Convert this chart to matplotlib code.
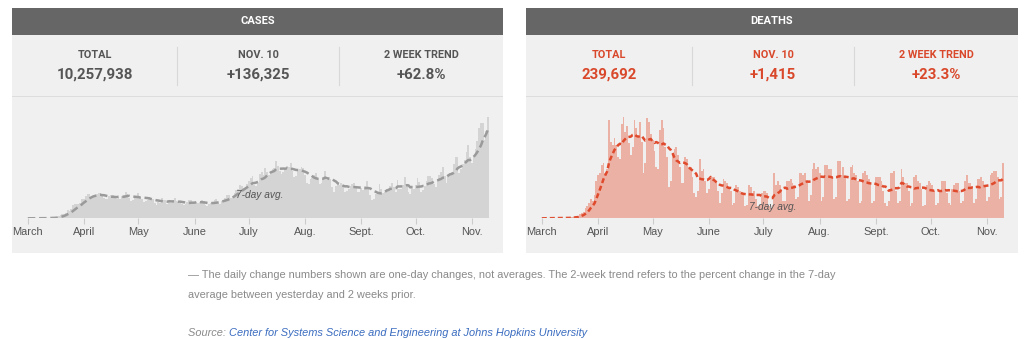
import numpy as np
import pandas as pd
import matplotlib
matplotlib.use('Agg')
import matplotlib.pyplot as plt
from matplotlib.patches import Rectangle

# daily new cases (thousands), Mar 1 - Nov 10
cases_mar = [0.01, 0.02, 0.03, 0.03, 0.07, 0.1, 0.1, 0.12, 0.2, 0.3, 0.4, 0.5, 0.6, 0.7, 0.8,
             1.0, 1.5, 2.5, 4.5, 5.6, 6.4, 7.8, 10.6, 10.0, 12.0, 17.8, 18.7, 19.6, 19.0, 21.0, 26.0]
cases_apr = [26.5, 29.9, 32.1, 33.3, 28.2, 29.6, 30.9, 32.4, 34.0, 33.6, 29.9, 27.5, 25.4, 26.6, 29.6,
             31.4, 31.9, 28.8, 26.3, 28.1, 26.6, 29.5, 31.6, 35.6, 33.2, 27.0, 23.0, 25.0, 27.5, 30.4]
cases_may = [34.0, 29.3, 25.5, 22.3, 23.8, 25.0, 28.9, 27.6, 25.6, 20.3, 18.4, 22.0, 21.0, 27.4, 25.1,
             24.2, 19.0, 22.3, 20.4, 21.7, 27.4, 23.5, 22.0, 20.0, 19.0, 18.0, 19.7, 21.8, 24.0, 24.3, 20.0]
cases_jun = [20.0, 21.5, 20.0, 21.5, 24.5, 22.8, 18.0, 17.0, 18.6, 21.0, 22.5, 25.0, 25.5, 20.0, 19.5,
             23.5, 25.0, 27.5, 31.5, 32.0, 27.0, 30.0, 34.5, 37.5, 39.5, 45.0, 43.0, 40.0, 41.0, 46.0]
cases_jul = [50.0, 54.0, 57.0, 45.0, 44.0, 48.0, 60.0, 62.0, 59.0, 68.0, 63.0, 59.0, 62.0, 67.0, 68.0,
             77.0, 71.0, 64.0, 60.0, 62.0, 66.0, 71.0, 69.0, 74.0, 64.0, 55.0, 57.0, 65.0, 67.0, 69.0, 68.0]
cases_aug = [58.0, 47.0, 46.0, 53.0, 54.0, 58.0, 61.0, 54.0, 46.0, 48.0, 53.0, 64.0, 52.0, 56.0, 53.0,
             42.0, 36.0, 44.0, 47.0, 45.0, 48.0, 45.0, 36.0, 37.0, 39.0, 44.0, 46.0, 48.0, 43.0, 35.0, 35.0]
cases_sep = [41.0, 38.0, 44.0, 50.0, 42.0, 31.0, 24.0, 26.0, 33.0, 35.0, 46.0, 40.0, 34.0, 35.0, 39.0,
             39.0, 44.0, 48.0, 42.0, 36.0, 52.0, 39.0, 39.0, 45.0, 55.0, 46.0, 35.0, 33.0, 43.0, 40.0]
cases_oct = [45.0, 54.0, 49.0, 36.0, 38.0, 43.0, 50.0, 57.0, 57.0, 54.0, 46.0, 42.0, 51.0, 58.0, 63.0,
             69.0, 57.0, 48.0, 59.0, 61.0, 62.0, 73.0, 83.0, 83.0, 61.0, 66.0, 73.0, 79.0, 89.0, 99.0, 82.0]
cases_nov = [74.0, 84.0, 93.0, 104.0, 121.0, 129.0, 128.0, 106.0, 118.0, 136.3]

# daily new deaths, Mar 1 - Nov 10
deaths_mar = [0, 1, 1, 3, 2, 3, 3, 4, 4, 6, 8, 7, 10, 10, 10, 18, 23, 30, 40, 50, 52, 100, 140,
              165, 250, 300, 400, 500, 450, 600, 950]
deaths_apr = [1100, 1150, 1350, 1400, 1150, 1250, 2500, 1950, 1850, 2050, 1850, 1550, 1500, 2400, 2570,
              2200, 2350, 1900, 1600, 1800, 2500, 2300, 2050, 2450, 1950, 1150, 1400, 2550, 2450, 2150]
deaths_may = [2000, 1700, 1300, 1250, 2250, 2500, 2300, 1800, 1550, 800, 950, 1650, 1750, 1800, 1600,
              1300, 900, 900, 1550, 1500, 1300, 1300, 1050, 650, 550, 700, 1500, 1200, 1250, 950, 650]
deaths_jun = [750, 1050, 1050, 1050, 950, 700, 400, 650, 1000, 950, 900, 800, 700, 350, 400,
              850, 800, 700, 650, 600, 300, 350, 850, 800, 650, 700, 500, 300, 350, 650]
deaths_jul = [700, 700, 650, 300, 250, 350, 1150, 850, 950, 850, 750, 450, 450, 950, 950,
              1000, 900, 850, 500, 550, 1150, 1150, 1100, 1150, 950, 450, 600, 1250, 1400, 1250, 1300]
deaths_aug = [1150, 450, 550, 1350, 1350, 1250, 1250, 1050, 500, 550, 1450, 1450, 1100, 1300, 1050,
              450, 500, 1300, 1350, 1150, 1100, 950, 400, 450, 1150, 1200, 1100, 1000, 900, 400, 450]
deaths_sep = [1050, 1050, 1050, 950, 700, 400, 300, 450, 1150, 1150, 1200, 700, 400, 450, 1250,
              1050, 900, 900, 700, 300, 400, 1050, 1100, 950, 900, 750, 300, 350, 850, 950]
deaths_oct = [900, 850, 700, 350, 400, 700, 950, 950, 950, 650, 400, 350, 750, 850, 900,
              900, 700, 400, 450, 950, 1100, 900, 900, 800, 400, 500, 1000, 1000, 1050, 950, 850]
deaths_nov = [450, 550, 1100, 1150, 1200, 1200, 1050, 500, 550, 1415]

month_labels = ['March', 'April', 'May', 'June', 'July', 'Aug.', 'Sept.', 'Oct.', 'Nov.']
stat_labels = ['TOTAL', 'NOV. 10', '2 WEEK TREND']
cases_stats = ['10,257,938', '+136,325', '+62.8%']
deaths_stats = ['239,692', '+1,415', '+23.3%']

cases = np.array(cases_mar + cases_apr + cases_may + cases_jun + cases_jul
                 + cases_aug + cases_sep + cases_oct + cases_nov) * 1000
deaths = np.array(deaths_mar + deaths_apr + deaths_may + deaths_jun + deaths_jul
                  + deaths_aug + deaths_sep + deaths_oct + deaths_nov, dtype=float)
month_lens = [len(m) for m in (cases_mar, cases_apr, cases_may, cases_jun, cases_jul,
                               cases_aug, cases_sep, cases_oct)]
month_starts = np.concatenate([[0], np.cumsum(month_lens)])

W, H = 1024, 339
fig = plt.figure(figsize=(W / 100, H / 100), dpi=100)
fig.patch.set_facecolor('white')

bg = fig.add_axes([0, 0, 1, 1])
bg.set_xlim(0, W)
bg.set_ylim(H, 0)
bg.axis('off')

GRAY_TXT = '#555555'
RED_TXT = '#d9482b'
PANEL_BG = '#f0f0f0'


def px_axes(x0, y0, x1, y1):
    """axes rect from pixel box (top-left origin)"""
    return fig.add_axes([x0 / W, 1 - y1 / H, (x1 - x0) / W, (y1 - y0) / H])


def draw_panel(x0, x1, title, stats, txt_color, seps):
    bg.add_patch(Rectangle((x0, 8), x1 - x0, 27, color='#666666', lw=0))
    bg.add_patch(Rectangle((x0, 35), x1 - x0, 61, color=PANEL_BG, lw=0))
    bg.add_patch(Rectangle((x0, 96), x1 - x0, 1.2, color='#dddddd', lw=0))
    bg.add_patch(Rectangle((x0, 97.2), x1 - x0, 156, color=PANEL_BG, lw=0))
    bg.text((x0 + x1) / 2, 21.5, title, color='white', fontsize=8, fontweight='bold',
            family='Roboto', ha='center', va='center')
    edges = [x0] + seps + [x1]
    for i, (lab, val) in enumerate(zip(stat_labels, stats)):
        cx = (edges[i] + edges[i + 1]) / 2
        bg.text(cx, 55, lab, color=txt_color, fontsize=7.8, fontweight='semibold',
                family='Roboto', ha='center', va='center')
        bg.text(cx, 75, val, color=txt_color, fontsize=10.8, fontweight='bold',
                family='Roboto', ha='center', va='center')
    for s in seps:
        bg.plot([s, s], [47, 85], color='#d8d8d8', lw=0.8)


def draw_chart(ax, values, bar_color, line_color, dashes, ytop, label_xy):
    days = np.arange(len(values))
    avg = pd.Series(values).rolling(7, min_periods=1).mean()
    ax.bar(days, values, width=1.0, color=bar_color, lw=0)
    ax.plot(days, avg, color=line_color, lw=1.8, dashes=dashes)
    ax.set_xlim(-1, len(values))
    ax.set_ylim(0, ytop)
    ax.set_facecolor('none')
    for sp in ax.spines.values():
        sp.set_visible(False)
    ax.set_yticks([])
    ax.set_xticks(month_starts)
    ax.set_xticklabels(month_labels, fontsize=7.9, color=GRAY_TXT, family='Liberation Sans')
    ax.tick_params(axis='x', length=4, width=0.8, color='#cccccc', pad=2)
    ax.axhline(0, color='#dddddd', lw=0.8)
    ax.text(label_xy[0], label_xy[1], '7-day avg.', fontsize=7.3, style='italic',
            color=GRAY_TXT, family='Liberation Sans', ha='center', va='center')


draw_panel(12, 503, 'CASES', cases_stats, GRAY_TXT, [177, 339])
draw_panel(526, 1018, 'DEATHS', deaths_stats, RED_TXT, [692, 854])

ax1 = px_axes(26, 110, 490, 218.3)
draw_chart(ax1, cases, '#d4d4d4', '#9a9a9a', (3, 1.5), 145900, (128, 31000))
ax2 = px_axes(540, 110, 1005, 218.3)
draw_chart(ax2, deaths, '#ecb1a5', '#e04a2c', (2, 1.2), 2750, (127, 280))

# footnotes
foot = dict(fontsize=7.9, color='#8a8a8a', family='Liberation Sans', va='center', ha='left')
bg.text(188, 275, '\u2014 The daily change numbers shown are one-day changes, not averages. '
        'The 2-week trend refers to the percent change in the 7-day', **foot)
bg.text(188, 295, 'average between yesterday and 2 weeks prior.', **foot)
src = bg.text(188, 333, 'Source: ', style='italic', **foot)
fig.canvas.draw()
bb = src.get_window_extent()
bg.text(188 + bb.width, 333, 'Center for Systems Science and Engineering at Johns Hopkins University',
        style='italic', fontsize=7.9, color='#3a6cc0', family='Liberation Sans',
        va='center', ha='left')

fig.savefig('out.png', dpi=100, facecolor='white')
